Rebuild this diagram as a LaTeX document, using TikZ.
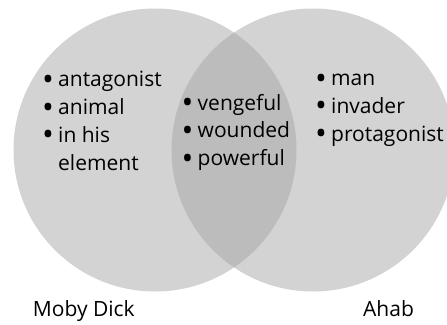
\documentclass[tikz,border=0pt]{standalone}
\usepackage{fontspec}
\setmainfont{Open Sans}
\definecolor{setgray}{RGB}{211,211,211}
\definecolor{overlapgray}{RGB}{188,188,188}
\newcommand{\bul}{\makebox[16pt][l]{\raisebox{-3.5pt}{\scalebox{1.5}{\textbullet}}}}
\newcommand{\cont}{\hspace*{16pt}}
\begin{document}
\begin{tikzpicture}[x=1pt, y=-1pt,
    items/.style={anchor=base west, align=left, inner sep=0pt, font=\fontsize{21}{27.7}\selectfont},
    setname/.style={anchor=base west, inner sep=0pt, font=\fontsize{21}{25}\selectfont}
]
\useasboundingbox (0,0) rectangle (447,324);

% the two sets
\coordinate (cmoby) at (155,150);
\coordinate (cahab) at (313,150);
\fill[setgray] (cmoby) circle[radius=141.5pt];
\fill[setgray] (cahab) circle[radius=141.5pt];
\begin{scope}
  \clip (cmoby) circle[radius=141.5pt];
  \fill[overlapgray] (cahab) circle[radius=141.5pt];
\end{scope}

% traits (anchored at the baseline of the last line)
\node[items] (moby) at (42,170) {\bul antagonist\\\bul animal\\\bul in his\\\cont element};
\node[items] (both) at (181.5,165.5) {\bul vengeful\\\bul wounded\\\bul powerful};
\node[items] (ahab) at (315,141) {\bul man\\\bul invader\\\bul protagonist};

% set names
\node[setname] (mobyname) at (32.7,316.7) {Moby Dick};
\node[setname] (ahabname) at (363,316.7) {Ahab};

\end{tikzpicture}
\end{document}
